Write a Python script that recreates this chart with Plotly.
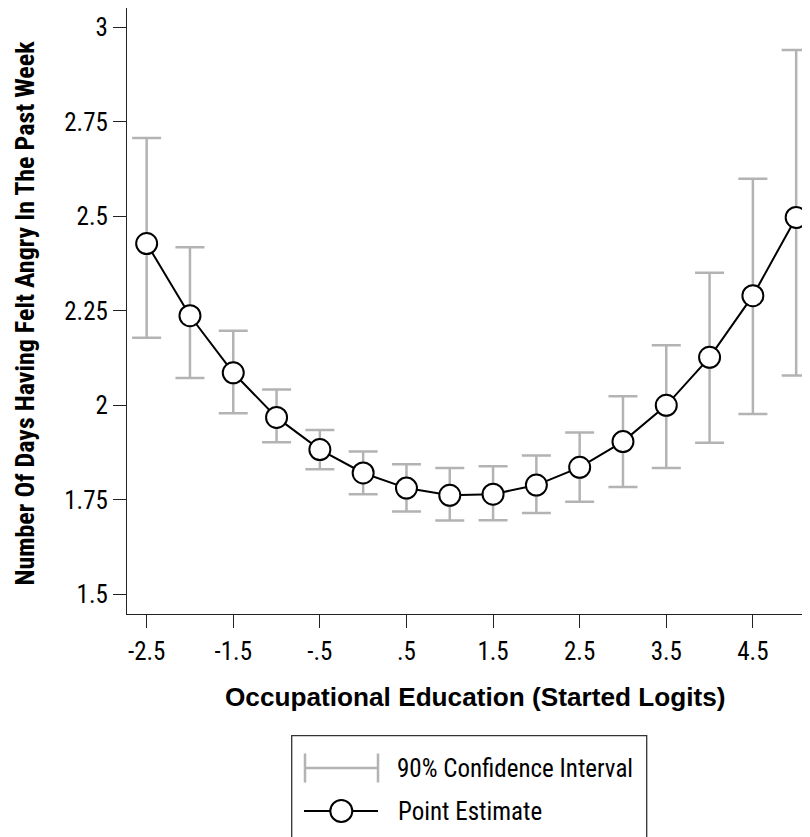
import plotly.graph_objects as go

# ---- data ----
x_vals = [-2.5, -2, -1.5, -1, -0.5, 0, 0.5, 1, 1.5, 2, 2.5, 3, 3.5, 4, 4.5, 5]
estimate = [2.428, 2.237, 2.086, 1.968, 1.883, 1.821, 1.781, 1.762, 1.765, 1.789,
            1.836, 1.904, 2.000, 2.127, 2.290, 2.497]
ci_high = [2.707, 2.418, 2.197, 2.042, 1.935, 1.878, 1.844, 1.834, 1.839, 1.867,
           1.928, 2.024, 2.159, 2.351, 2.599, 2.940]
ci_low = [2.179, 2.072, 1.979, 1.902, 1.831, 1.765, 1.719, 1.695, 1.696, 1.715,
          1.745, 1.784, 1.834, 1.901, 1.977, 2.079]

x_tickvals = [-2.5, -1.5, -0.5, 0.5, 1.5, 2.5, 3.5, 4.5]
x_ticktext = ["-2.5", "-1.5", "-.5", ".5", "1.5", "2.5", "3.5", "4.5"]
y_tickvals = [1.5, 1.75, 2, 2.25, 2.5, 2.75, 3]
y_ticktext = ["1.5", "1.75", "2", "2.25", "2.5", "2.75", "3"]

x_title = "Occupational Education (Started Logits)"
y_title = "Number Of Days Having Felt Angry In The Past Week"
ci_label = "90% Confidence Interval"
pt_label = "Point Estimate"

NARROW = "Roboto Condensed, Liberation Sans Narrow, Liberation Sans, sans-serif"
REGULAR = "Liberation Sans, Arial, sans-serif"
CI_COLOR = "#b3b3b3"

err_plus = [h - e for h, e in zip(ci_high, estimate)]
err_minus = [e - l for e, l in zip(estimate, ci_low)]

fig = go.Figure()

# confidence intervals
fig.add_trace(go.Scatter(
    x=x_vals, y=estimate, mode="markers",
    marker=dict(size=1, opacity=0),
    error_y=dict(type="data", symmetric=False, array=err_plus, arrayminus=err_minus,
                 color=CI_COLOR, thickness=2.5, width=14.5),
    showlegend=False, hoverinfo="skip",
))

# point estimates
fig.add_trace(go.Scatter(
    x=x_vals, y=estimate, mode="lines+markers",
    line=dict(color="black", width=2),
    marker=dict(size=21, color="white", line=dict(color="black", width=2)),
    showlegend=False, cliponaxis=False,
))

W, H = 810, 837
OFF = 8  # page body offset
L, R, T, B = 119, 0, 0, 231
pw, ph = W - L - R, H - T - B


def px(sx):
    return (sx - OFF - L) / pw


def py(sy):
    return (H - B - (sy - OFF)) / ph


axis_common = dict(
    showline=True, linecolor="#222", linewidth=1.3,
    ticks="outside", ticklen=13, tickwidth=1.3, tickcolor="#222",
    showgrid=False, zeroline=False,
    tickfont=dict(family=NARROW, size=25, color="black"),
)

fig.update_layout(
    width=W, height=H, autosize=False,
    margin=dict(l=L, r=R, t=T, b=B, pad=0),
    plot_bgcolor="white", paper_bgcolor="white",
    xaxis=dict(range=[-2.727, 5.252], tickvals=x_tickvals, ticktext=x_ticktext,
               ticklabelstandoff=2, **axis_common),
    yaxis=dict(range=[1.448, 3.051], tickvals=y_tickvals, ticktext=y_ticktext, **axis_common),
)

shapes = []
# legend box
shapes.append(dict(type="rect", xref="paper", yref="paper",
                   x0=px(291.7), x1=px(646.7), y0=py(735.7), y1=py(880),
                   line=dict(color="#333", width=1.3), fillcolor="rgba(0,0,0,0)"))
# CI legend symbol
shapes.append(dict(type="line", xref="paper", yref="paper",
                   x0=px(305), x1=px(378), y0=py(768), y1=py(768),
                   line=dict(color=CI_COLOR, width=2.5)))
for xx in (305, 378):
    shapes.append(dict(type="line", xref="paper", yref="paper",
                       x0=px(xx), x1=px(xx), y0=py(753.5), y1=py(782.5),
                       line=dict(color=CI_COLOR, width=2.5)))
# point estimate legend symbol
shapes.append(dict(type="line", xref="paper", yref="paper",
                   x0=px(304), x1=px(378), y0=py(811), y1=py(811),
                   line=dict(color="black", width=2)))
shapes.append(dict(type="circle", xref="paper", yref="paper",
                   x0=px(330.3), x1=px(352.3), y0=py(800), y1=py(822),
                   line=dict(color="black", width=2), fillcolor="white"))

annotations = [
    dict(text=y_title, xref="paper", yref="paper", x=px(24.5), y=py(313),
         textangle=-90, showarrow=False, xanchor="center", yanchor="middle",
         font=dict(family=NARROW, size=26, color="black", weight="bold")),
    dict(text=x_title, xref="paper", yref="paper", x=px(475.5), y=py(697),
         showarrow=False, xanchor="center", yanchor="middle",
         font=dict(family=REGULAR, size=26.2, color="black", weight="bold")),
    dict(text=ci_label, xref="paper", yref="paper", x=px(395), y=py(768),
         showarrow=False, xanchor="left", yanchor="middle",
         font=dict(family=NARROW, size=25, color="black")),
    dict(text=pt_label, xref="paper", yref="paper", x=px(396), y=py(811),
         showarrow=False, xanchor="left", yanchor="middle",
         font=dict(family=NARROW, size=25, color="black")),
]

fig.update_layout(shapes=shapes, annotations=annotations)

fig.write_html("out.html")
